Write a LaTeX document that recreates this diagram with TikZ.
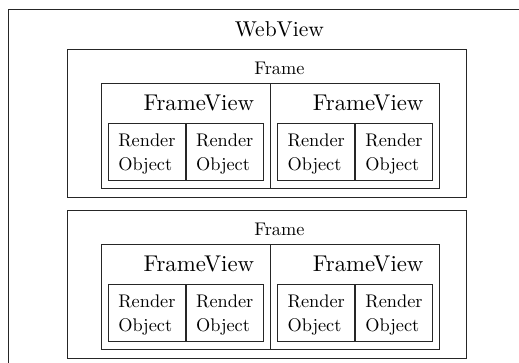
\documentclass[tikz,border=0pt]{standalone}
\usepackage{fontspec}
\setmainfont{lmroman10-regular}[Extension=.otf]
\usetikzlibrary{positioning}

\begin{document}
\begin{tikzpicture}[
    x=1pt, y=-1pt,
    % Styles
    box/.style = {rectangle, draw=black!85, line width=0.8pt, inner sep=0pt},
    framebox/.style = {box, minimum width=399pt, minimum height=148pt},
    frameview/.style = {box, minimum width=168.5pt, minimum height=105pt},
    renderobj/.style = {box, minimum width=77pt, minimum height=57pt, align=left, text depth=0pt, font=\fontsize{18.3}{24}\selectfont},
    big_title/.style = {inner sep=0pt, font=\fontsize{21.5}{26}\selectfont},
    fv_title/.style = {inner sep=0pt, font=\fontsize{22.8}{27}\selectfont},
    small_title/.style = {inner sep=0pt, font=\fontsize{18.3}{24}\selectfont}
]
\useasboundingbox (0,0) rectangle (519,363);
\clip (0,0) rectangle (519,363);

% --- WEBVIEW (cut off at the right and bottom) ---
\node[box, minimum width=600pt, minimum height=400pt, anchor=north west] (webview) at (7.5,9) {};

% --- FRAME 1 ---
\node[framebox, below right=40pt and 59.5pt of webview.north west] (frame1) {};
\node[small_title, below=13pt of frame1.north, xshift=12.5pt] (frame1_title) {Frame};
\node[big_title, above=25pt of frame1_title] (webview_title) {WebView};

\node[frameview, above right=9pt and 34pt of frame1.south west] (fv1a) {};
\node[frameview, right=0pt of fv1a] (fv1b) {};
\node[fv_title, below left=12pt and 16pt of fv1a.north east] (fv1a_title) {FrameView};
\node[fv_title, below left=12pt and 16pt of fv1b.north east] (fv1b_title) {FrameView};

\node[renderobj, above right=8pt and 7pt of fv1a.south west] (ro1a1) {Render\\Object};
\node[renderobj, right=0pt of ro1a1] (ro1a2) {Render\\Object};
\node[renderobj, above right=8pt and 7pt of fv1b.south west] (ro1b1) {Render\\Object};
\node[renderobj, right=0pt of ro1b1] (ro1b2) {Render\\Object};

% --- FRAME 2 ---
\node[framebox, below=12pt of frame1] (frame2) {};
\node[small_title, below=13pt of frame2.north, xshift=12.5pt] (frame2_title) {Frame};

\node[frameview, above right=9pt and 34pt of frame2.south west] (fv2a) {};
\node[frameview, right=0pt of fv2a] (fv2b) {};
\node[fv_title, below left=12pt and 16pt of fv2a.north east] (fv2a_title) {FrameView};
\node[fv_title, below left=12pt and 16pt of fv2b.north east] (fv2b_title) {FrameView};

\node[renderobj, above right=8pt and 7pt of fv2a.south west] (ro2a1) {Render\\Object};
\node[renderobj, right=0pt of ro2a1] (ro2a2) {Render\\Object};
\node[renderobj, above right=8pt and 7pt of fv2b.south west] (ro2b1) {Render\\Object};
\node[renderobj, right=0pt of ro2b1] (ro2b2) {Render\\Object};

\end{tikzpicture}
\end{document}
